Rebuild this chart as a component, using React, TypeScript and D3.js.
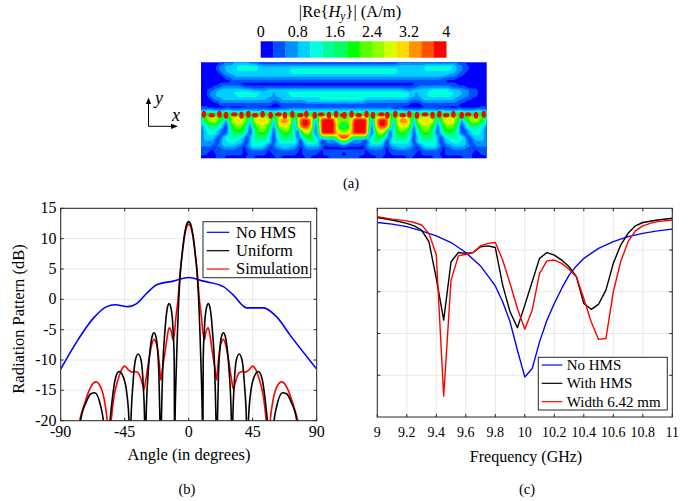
import React from "react";
import * as d3 from "d3";

// ---------- panel (a): field levels (0-e index into colorbarColors), 3 px cells
const colorbarColors = ["#0000ff","#0050ff","#0090ff","#00d0ff","#00ffe0","#00ff9a","#00ff60","#00ff00","#55ff00","#90ff00","#d8ff00","#ffd800","#ff9000","#ff5000","#ff0000"];
const colorbarTicks = ["0","0.8","1.6","2.4","3.2","4"];
const colorbarDomain = [0, 4];

const fieldUpper = [
 "000000112223 333322211111 111111111111 111111111111 111111111111 111111222222 222222222222 221110000000",
 "000001223333 444444443333 333333333333 333333333333 333333333333 333333333333 333444444444 432211000000",
 "000001223333 444444433333 333333444444 444444444444 444444444444 444444333333 333444444444 332211000000",
 "000000122333 333333333333 333333444444 444444444444 444444444444 444444333333 333333333333 322110000000",
 "000000012223 333333333333 333333333333 333333333333 333333333333 333333333333 333333333332 221100000000",
 "000000001122 222222222222 222222222222 222222222222 222222222222 222222222222 222222222111 110000000000",
 "000000000011 111111111111 111111111111 111111111111 111111111111 111111111111 111111111100 000000000000",
 "000000111111 100000000000 000000000000 000000000000 000000000000 000000000000 111111111111 110000000000",
 "000011122222 221111111111 111111111111 111111111111 111111111111 111111111111 122222222222 111110000000",
 "001122333333 333332222233 333333333333 333333333333 333333333333 333333332223 333334444443 333222111000",
 "001223333334 444444443333 233334444444 444444444444 444444444444 444444444433 233344444444 433322111000",
 "001223333333 444444433333 233333444444 444444444444 444444444444 444444444433 233344444444 333222111000",
 "000122233333 333333333322 222333333333 333344444444 444444433333 333333333322 223333333333 322211100000",
 "000011222222 222222222222 112222222223 333333333333 333333322222 222222222211 112222222222 221110000000",
 "000000111111 111111111111 001111111111 111111111111 111111111111 111111111100 001111111111 111000000000",
 "110000000000 000011100000 000011111111 111111111111 111111111111 111110000000 000011100000 000000000011",
 "223322223322 223322223322 223323333333 333333333333 333333333333 333332332232 223322223322 223322223322",
];
const fieldLowerHalf = [
 "666666666666 666666666666 666666666666 666666666666",
 "888888888888 888888888888 888888888888 888888888888",
 "579aa975 2 79bbb97 2 8abbba8 2 8bddb8 2 9deed9 1 7 eeeee 998",
 "4689a864 1 79aba97 1 8abbba8 1 9bccb9 1 adeeda 0 8 eeeee a98",
 "34566543 0 5799975 1 689a986 1 7abba7 1 9deed9 0 7 eeeee b75",
 "24555542 0 4688864 1 5799975 1 69aa96 1 8cddc8 0 6 eeeee b76",
 "2344432 0 1 4677764 0 4688864 0 4688864 0 6aba6 0 5 eeeee b98",
 "2344432 0 1 3566653 0 4577754 0 4577754 0 58985 0 4 eeeee cba",
 "233332 0 34555543 0 34666643 0 4566654 0 467764 0 88888 9ee",
 "23332 0 234444432 0 34555543 0 34555543 0 456654 0 2222 59c",
 "22222 0 233444332 0 34444443 0 34444443 0 345543 0 1222 135",
 "2222 0 223333322 0 23444432 0 233333332 0 2333332 0 111112",
 "1111 0 112222211 0 12333321 0 122333221 0 1222221 0 000000",
 "111 0 1111111111 0 1111111 0 1111111111 0 111111 0 1111111",
 "110 00 111111111 00 111111 00 11111111 00 11111 00 111111",
 "00000 11100 00000 11100000 00 1100000 000 110000 0011111",
];
const fieldCols = 96;
const fieldRows = 33;
const dotColumnsLeft = [1,3.6,6.2,8.4,11.2,13.6,15.9,18.2,20.7,23.4,26,28.2,30.7,33.4,35.4,38.2,40.4,43,45.4,47.8];
const dotRow = 18;

// ---------- panel (b)
const patternTicksY = [-20,-15,-10,-5,0,5,10,15];
const patternTicksX = [-90,-45,0,45,90];
const noHmsAngles = [-90,-78.75,-67,-57.7,-51.8,-42.4,-36.6,-29.5,-22.5,-10.8,0,10.3,24.4,31.4,40.8,52.5,61.9,71.3,90];
const noHmsPattern = [-11.5,-7,-3.1,-1.2,-0.9,-1.2,-0.7,1,2.4,3,3.6,3,2.1,0.7,-1.4,-1.4,-2.9,-5.9,-11.5];
const uniformAnglesHalf = [0,1.5,3,4.5,5.8,7,8,8.8,9.6,9.9,10.2,11,12.3,13.8,15.3,16.8,18.2,19.2,19.7,20.2,21,22,23.2,24.4,25.6,27,28.5,30,30.5,31,32,33.5,35.5,37.5,39.2,40.6,41.3,42,43.5,46,49,51.5,54,55.3,57.5,60,62,66,69,72,76,78];
const uniformPatternHalf = [12.8,12.3,10.6,7.8,4.6,0,-6,-12,-20,-26,-10,-5,-1.6,-0.7,-1.8,-5.5,-11,-20,-27,-20,-12,-8,-6,-5.5,-6,-8,-12,-20,-27,-20,-14,-10,-9,-10,-14,-20,-27,-20,-15.5,-12.8,-11.9,-13,-17,-20,-28,-20,-17.5,-15.4,-15.6,-16.9,-20,-24];
const simulationAnglesHalf = [0,1.5,3,4.5,6,7.5,9,10,11.2,12,13.8,15,16.5,18.5,19.7,20.5,22,23.5,24.4,26,28,30,31.4,32.5,34,36,38,40,42,45,47,50,52.5,54.5,55.5,56.3,57.3,59,61,63,65,67,70,73,76.7,79];
const simulationPatternHalf = [12.4,11.9,10.3,7.5,4.5,0,-3,-5.5,-6.6,-5.5,-4.7,-6,-8.5,-11.5,-13.3,-11,-8,-6.8,-6.6,-7.5,-10,-13,-14.8,-14,-12.8,-12,-11.9,-12,-11.7,-11,-11.5,-13.5,-16,-20,-23,-23,-20,-17,-15,-14,-13.6,-13.8,-15,-17,-20,-23];
const patternLegend = ["No HMS","Uniform","Simulation"];

// ---------- panel (c)
const freqTicks = [9,9.2,9.4,9.6,9.8,10,10.2,10.4,10.6,10.8,11];
const freqTickLabels = ["9","9.2","9.4","9.6","9.8","10","10.2","10.4","10.6","10.8","11"];
const levelGrid = [-5,-10,-15,-20];
const noHmsFreq = [9,9.1,9.2,9.3,9.4,9.5,9.6,9.7,9.8,9.85,9.9,9.95,10,10.05,10.1,10.15,10.2,10.25,10.3,10.35,10.4,10.5,10.6,10.7,10.8,10.9,11];
const noHmsLevel = [-1.7,-1.9,-2.2,-2.7,-3.3,-4.1,-5.3,-6.9,-9.3,-11.2,-13.6,-17,-20.2,-19.2,-16,-13.4,-11.4,-9.6,-8,-6.9,-6,-4.8,-4,-3.4,-3,-2.7,-2.5];
const withHmsFreq = [9,9.1,9.2,9.25,9.3,9.35,9.4,9.45,9.5,9.55,9.6,9.65,9.7,9.75,9.8,9.85,9.9,9.95,10,10.05,10.1,10.15,10.2,10.25,10.3,10.35,10.4,10.45,10.5,10.55,10.6,10.65,10.7,10.75,10.8,10.9,11];
const withHmsLevel = [-1.1,-1.4,-1.8,-2.1,-2.6,-4,-8.4,-13.4,-6.4,-5.3,-5.4,-5.3,-4.6,-4.5,-4.7,-9.2,-12.4,-14.3,-11.6,-8.8,-6,-5.3,-5.6,-6.2,-7,-8.2,-11.4,-12.1,-11.5,-9.8,-6.6,-4.4,-3,-2.1,-1.7,-1.4,-1.2];
const widthFreq = [9,9.1,9.2,9.25,9.3,9.35,9.4,9.45,9.5,9.55,9.6,9.65,9.7,9.75,9.8,9.85,9.9,9.95,10,10.05,10.1,10.15,10.2,10.25,10.3,10.35,10.4,10.45,10.5,10.55,10.6,10.65,10.7,10.75,10.8,10.85,10.9,11];
const widthLevel = [-1,-1.3,-1.5,-1.7,-2,-3,-5.6,-22.5,-8.6,-5.7,-5.5,-5.3,-4.5,-4.2,-4.1,-6.2,-9,-12,-14.5,-12.2,-7.8,-6.3,-6.2,-6.6,-7.3,-8.2,-10.8,-13.6,-15.7,-15.6,-10,-6.4,-4,-2.7,-2.1,-1.8,-1.6,-1.4];
const levelLegend = ["No HMS","With HMS","Width 6.42 mm"];

const BLUE = "#0000ff", BLACK = "#000000", RED = "#ff0000";
const FONT = "'Liberation Serif','Times New Roman',serif";
const GRID = "#e8e8e8", FRAME = "#262626";
const UP = 3;

function buildField(): number[] {
  const rows = [
    ...fieldUpper.map((s) => s.replace(/ /g, "")),
    ...fieldLowerHalf.map((s) => {
      const h = s.replace(/ /g, "").padEnd(48, "0").slice(0, 48);
      return h + h.split("").reverse().join("");
    }),
  ];
  const out: number[] = [];
  for (let r = 0; r < fieldRows * UP; r++) {
    const row = rows[Math.min(Math.floor(r / UP), rows.length - 1)];
    for (let c = 0; c < fieldCols * UP; c++) out.push(parseInt(row[Math.floor(c / UP)] ?? "0", 16));
  }
  d3.blur2({ data: out, width: fieldCols * UP, height: fieldRows * UP }, 1);
  return out;
}

function mirror(a: number[], sign: number): number[] {
  return [...a.slice(1).reverse().map((v) => v * sign), ...a];
}

function FieldPanel() {
  const box = { x0: 201, x1: 486.7, y0: 62.3, y1: 158.3 };
  const sx = (box.x1 - box.x0) / (fieldCols * UP);
  const sy = (box.y1 - box.y0) / (fieldRows * UP);
  const values = buildField();
  const thresholds = d3.range(1, colorbarColors.length).map((k) => k - 0.5);
  const contours = d3.contours().size([fieldCols * UP, fieldRows * UP]).thresholds(thresholds)(values);
  const path = d3.geoPath();
  const colX = d3.scaleLinear([0, fieldCols], [box.x0, box.x1]);
  const rowY = d3.scaleLinear([0, fieldRows], [box.y0, box.y1]);
  const dots = [...dotColumnsLeft, ...dotColumnsLeft.map((c) => fieldCols - c)];
  const cbX = d3.scaleLinear(colorbarDomain, [260.7, 446.2]);
  const n = colorbarColors.length;
  return (
    <g fontFamily={FONT} fill="#000">
      <text x={350} y={17} fontSize={16.5} textAnchor="middle">
        |Re{"{"}<tspan fontStyle="italic">H</tspan><tspan fontStyle="italic" fontSize={11.5} dy={3}>y</tspan><tspan dy={-3}>{"}"}| (A/m)</tspan>
      </text>
      {colorbarTicks.map((t) => (
        <text key={t} x={cbX(+t)} y={37} fontSize={16} textAnchor="middle">{t}</text>
      ))}
      <g filter="url(#soft)">
        {colorbarColors.map((c, i) => (
          <rect key={c} x={cbX((i / n) * 4)} y={41.3} width={cbX(4 / n) - cbX(0) + 0.3} height={16.4} fill={c} />
        ))}
        <rect x={box.x0} y={box.y0} width={box.x1 - box.x0} height={box.y1 - box.y0} fill={colorbarColors[0]} />
        <g clipPath="url(#fieldClip)">
          <g transform={`translate(${box.x0},${box.y0}) scale(${sx},${sy})`}>
            {contours.map((c, i) => (
              <path key={i} d={path(c as any) ?? ""} fill={colorbarColors[i + 1]} />
            ))}
          </g>
          {dots.map((c, i) => (
            <ellipse key={i} cx={colX(c)} cy={rowY(dotRow) + (i % 2 ? 0.6 : -0.3)} rx={i % 3 === 1 ? 3.1 : 2.2} ry={i % 3 === 1 ? 2.2 : 3.5} fill={colorbarColors[14]} />
          ))}
        </g>
      </g>
      {/* axes icon */}
      <path d="M148.5,100 V126.3 H172" fill="none" stroke="#000" strokeWidth={1} />
      <path d="M148.5,97.5 l-2.6,6.5 h5.2 Z M178,126.3 l-7,-2.6 v5.2 Z" fill="#000" />
      <text x={155} y={104} fontSize={18} fontStyle="italic">y</text>
      <text x={172} y={121} fontSize={18} fontStyle="italic">x</text>
      <text x={351} y={188} fontSize={14.5} textAnchor="middle">(a)</text>
    </g>
  );
}

function Legend({ x, y, w, h, rowYs, labels, lineX0, lineX1, textX, fontSize }: any) {
  const colors = [BLUE, BLACK, RED];
  return (
    <g>
      <rect x={x} y={y} width={w} height={h} fill="#fff" stroke={FRAME} strokeWidth={1} />
      {labels.map((l: string, i: number) => (
        <g key={l}>
          <line x1={lineX0} x2={lineX1} y1={rowYs[i]} y2={rowYs[i]} stroke={colors[i]} strokeWidth={1.2} />
          <text x={textX} y={rowYs[i] + fontSize * 0.32} fontSize={fontSize} fill="#000">{l}</text>
        </g>
      ))}
    </g>
  );
}

function PatternPanel() {
  const L = 60.7, R = 316.7, T = 208.3, B = 420.7;
  const x = d3.scaleLinear([-90, 90], [L, R]);
  const y = d3.scaleLinear([-20, 15], [B, T]);
  const line = (xs: number[], ys: number[]) =>
    d3.line<number>().x((d) => x(xs[d])).y((d) => y(ys[d])).curve(d3.curveMonotoneX)(d3.range(xs.length)) ?? "";
  const uniA = mirror(uniformAnglesHalf, -1), uniP = mirror(uniformPatternHalf, 1);
  const simA = mirror(simulationAnglesHalf, -1), simP = mirror(simulationPatternHalf, 1);
  return (
    <g fontFamily={FONT} fill="#000">
      {patternTicksX.map((t) => <line key={t} x1={x(t)} x2={x(t)} y1={T} y2={B} stroke={GRID} strokeWidth={1} />)}
      {patternTicksY.map((t) => <line key={t} x1={L} x2={R} y1={y(t)} y2={y(t)} stroke={GRID} strokeWidth={1} />)}
      <g clipPath="url(#patternClip)" fill="none" strokeWidth={1.6} strokeLinejoin="round">
        <path d={line(noHmsAngles, noHmsPattern)} stroke={BLUE} />
        <path d={line(simA, simP)} stroke={RED} />
        <path d={line(uniA, uniP)} stroke={BLACK} />
      </g>
      <rect x={L} y={T} width={R - L} height={B - T} fill="none" stroke={FRAME} strokeWidth={1} />
      {patternTicksX.map((t) => (
        <g key={t}>
          <line x1={x(t)} x2={x(t)} y1={B} y2={B - 3} stroke={FRAME} />
          <line x1={x(t)} x2={x(t)} y1={T} y2={T + 3} stroke={FRAME} />
          <text x={x(t)} y={437} fontSize={16} textAnchor="middle">{t}</text>
        </g>
      ))}
      {patternTicksY.map((t) => (
        <g key={t}>
          <line x1={L} x2={L + 3} y1={y(t)} y2={y(t)} stroke={FRAME} />
          <line x1={R} x2={R - 3} y1={y(t)} y2={y(t)} stroke={FRAME} />
          <text x={56.5} y={y(t) + 5} fontSize={16} textAnchor="end">{t}</text>
        </g>
      ))}
      <text transform="translate(24,319) rotate(-90)" fontSize={16.5} textAnchor="middle">Radiation Pattern (dB)</text>
      <text x={189} y={460} fontSize={16.5} textAnchor="middle">Angle (in degrees)</text>
      <Legend x={203} y={221.7} w={107.7} h={56} rowYs={[232.3, 250.7, 269]} labels={patternLegend} lineX0={206.7} lineX1={229.3} textX={236} fontSize={16.5} />
      <text x={187} y={494} fontSize={14.5} textAnchor="middle">(b)</text>
    </g>
  );
}

function LevelPanel() {
  const L = 377.3, R = 672.3, T = 208.3, B = 417;
  const x = d3.scaleLinear([9, 11], [L, R]);
  const y = d3.scaleLinear([-25, 0], [B, T]);
  const line = (xs: number[], ys: number[]) =>
    d3.line<number>().x((d) => x(xs[d])).y((d) => y(ys[d]))(d3.range(xs.length)) ?? "";
  return (
    <g fontFamily={FONT} fill="#000">
      {freqTicks.map((t) => <line key={t} x1={x(t)} x2={x(t)} y1={T} y2={B} stroke={GRID} strokeWidth={1} />)}
      {levelGrid.map((t) => <line key={t} x1={L} x2={R} y1={y(t)} y2={y(t)} stroke={GRID} strokeWidth={1} />)}
      <g clipPath="url(#levelClip)" fill="none" strokeWidth={1.4} strokeLinejoin="round">
        <path d={line(noHmsFreq, noHmsLevel)} stroke={BLUE} />
        <path d={line(withHmsFreq, withHmsLevel)} stroke={BLACK} />
        <path d={line(widthFreq, widthLevel)} stroke={RED} />
      </g>
      <rect x={L} y={T} width={R - L} height={B - T} fill="none" stroke={FRAME} strokeWidth={1} />
      {freqTicks.map((t, i) => (
        <g key={t}>
          <line x1={x(t)} x2={x(t)} y1={B} y2={B - 3} stroke={FRAME} />
          <line x1={x(t)} x2={x(t)} y1={T} y2={T + 3} stroke={FRAME} />
          <text x={x(t)} y={436.5} fontSize={14} textAnchor="middle">{freqTickLabels[i]}</text>
        </g>
      ))}
      {levelGrid.map((t) => (
        <g key={t}>
          <line x1={L} x2={L + 3} y1={y(t)} y2={y(t)} stroke={FRAME} />
          <line x1={R} x2={R - 3} y1={y(t)} y2={y(t)} stroke={FRAME} />
        </g>
      ))}
      <text x={526} y={462} fontSize={16} textAnchor="middle">Frequency (GHz)</text>
      <Legend x={538.3} y={357.3} w={129} h={52.7} rowYs={[365, 383.3, 401.7]} labels={levelLegend} lineX0={541.7} lineX1={562.3} textX={566.7} fontSize={15} />
      <text x={527} y={494} fontSize={14.5} textAnchor="middle">(c)</text>
    </g>
  );
}

export default function App() {
  return (
    <svg width={699} height={501} viewBox="0 0 699 501" style={{ position: "absolute", left: 0, top: 0, background: "#fff" }}>
      <defs>
        <filter id="soft" x="-5%" y="-5%" width="110%" height="110%">
          <feGaussianBlur stdDeviation={0.5} />
        </filter>
        <clipPath id="fieldClip"><rect x={201} y={62.3} width={285.7} height={96} /></clipPath>
        <clipPath id="patternClip"><rect x={60.7} y={208.3} width={256} height={212.4} /></clipPath>
        <clipPath id="levelClip"><rect x={377.3} y={208.3} width={295} height={208.7} /></clipPath>
      </defs>
      <FieldPanel />
      <PatternPanel />
      <LevelPanel />
    </svg>
  );
}
